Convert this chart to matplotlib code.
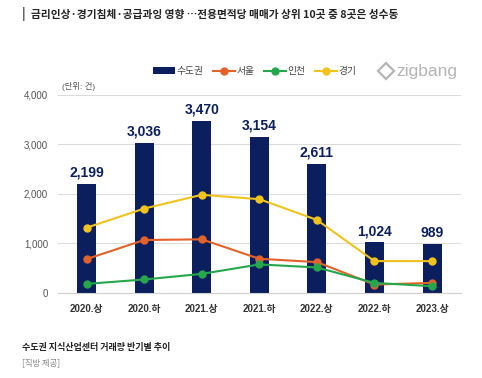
import matplotlib
matplotlib.use('Agg')
import matplotlib.pyplot as plt
from matplotlib.lines import Line2D

plt.rcParams['font.family'] = ['Liberation Sans', 'Noto Sans CJK KR', 'DejaVu Sans']

periods = ['2020.상', '2020.하', '2021.상', '2021.하', '2022.상', '2022.하', '2023.상']
capital = [2199, 3036, 3470, 3154, 2611, 1024, 989]
seoul = [684, 1069, 1083, 690, 623, 170, 203]
incheon = [183, 272, 385, 576, 515, 203, 136]
gyeonggi = [1318, 1704, 1982, 1894, 1475, 643, 643]
yticks = [0, 1000, 2000, 3000, 4000]

navy = '#0b1f5e'
orange = '#e4622a'
green = '#25a84b'
yellow = '#f1c31c'

fig = plt.figure(figsize=(4.82, 3.78), dpi=100)
ax = fig.add_axes([0.120, 0.225, 0.836, 0.524])

x = list(range(len(periods)))
b = ax.bar(x, capital, width=0.33, color=navy, label='수도권', zorder=2)
l1, = ax.plot(x, seoul, color=orange, marker='o', ms=5, lw=1.5, label='서울', zorder=3)
l2, = ax.plot(x, incheon, color=green, marker='o', ms=5, lw=1.5, label='인천', zorder=3)
l3, = ax.plot(x, gyeonggi, color=yellow, marker='o', ms=5, lw=1.5, label='경기', zorder=3)

for xi, v in zip(x, capital):
    ax.annotate(f'{v:,}', (xi, v), xytext=(0, 3), textcoords='offset points',
                ha='center', va='bottom', fontsize=10, fontweight='bold', color=navy)

ax.set_xlim(-0.5, len(periods) - 0.5)
ax.set_ylim(0, 4000)
ax.set_yticks(yticks)
ax.set_yticklabels([f'{t:,}' for t in yticks], fontsize=7, color='#555555')
ax.set_xticks(x)
ax.set_xticklabels(periods, fontsize=7, fontweight='bold', color='#333333')
ax.tick_params(length=0)
ax.tick_params(axis='x', pad=8)
ax.tick_params(axis='y', pad=7)
ax.grid(axis='y', color='#dcdcdc', lw=0.8, zorder=0)
for s in ['top', 'right', 'left']:
    ax.spines[s].set_visible(False)
ax.spines['bottom'].set_color('#d0d0d0')

ax.legend([b, l1, l2, l3], ['수도권', '서울', '인천', '경기'],
          loc='lower left', bbox_to_anchor=(0.215, 1.05), ncol=4, frameon=False,
          fontsize=7, handlelength=2.2, handletextpad=0.2, columnspacing=1.0,
          labelcolor='#444444')

ax.text(0.01, 1.02, '(단위: 건)', transform=ax.transAxes, fontsize=6, color='#555555',
        ha='left', va='bottom')

# zigbang logo
fig.add_artist(Line2D([0.800], [0.812], marker='D', ms=8, mfc='none', mec='#b5b5b5',
                      mew=1.6, transform=fig.transFigure))
fig.text(0.822, 0.812, 'zigbang', fontsize=12.5, color='#b5b5b5', ha='left', va='center')

fig.text(0.045, 0.962, '|', fontsize=10, color='#333333', ha='left', va='center')
fig.text(0.065, 0.962, '금리인상·경기침체·공급과잉 영향 …전용면적당 매매가 상위 10곳 중 8곳은 성수동',
         fontsize=7.7, fontweight='bold', color='#222222', ha='left', va='center',
         family=['Noto Sans CJK KR', 'DejaVu Sans'])

fig.text(0.045, 0.082, '수도권 지식산업센터 거래량 반기별 추이', fontsize=6.5,
         fontweight='bold', color='#222222', ha='left', va='center',
         family=['Noto Sans CJK KR', 'DejaVu Sans'])
fig.text(0.045, 0.040, '[직방 제공]', fontsize=6, color='#888888', ha='left', va='center',
         family=['Noto Sans CJK KR', 'DejaVu Sans'])

fig.savefig('out.png', dpi=100, facecolor='white')
